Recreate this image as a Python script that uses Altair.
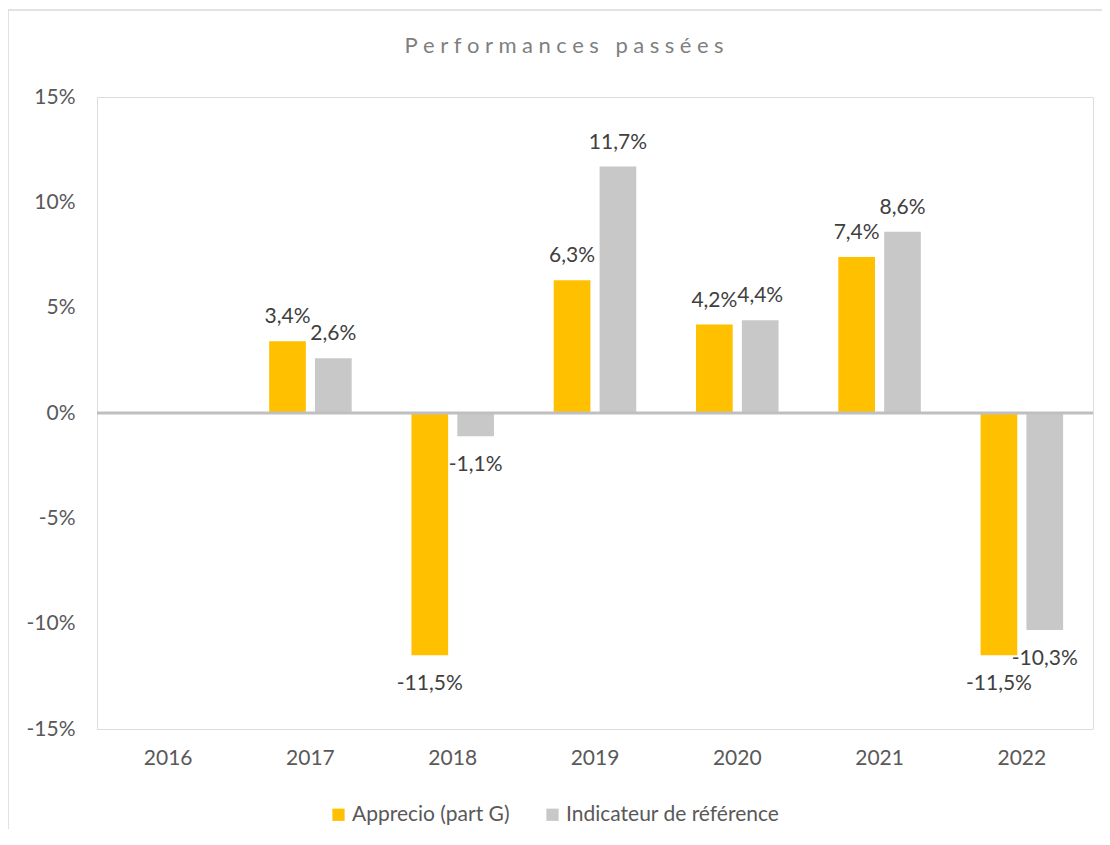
import altair as alt
import pandas as pd

years = ["2016", "2017", "2018", "2019", "2020", "2021", "2022"]
series = ["Apprecio (part G)", "Indicateur de référence"]
apprecio = [None, 3.4, -11.5, 6.3, 4.2, 7.4, -11.5]
indicateur = [None, 2.6, -1.1, 11.7, 4.4, 8.6, -10.3]
colors = ["#FFC000", "#C8C8C8"]
y_ticks = [-15, -10, -5, 0, 5, 10, 15]
title_text = "Performances passées"

rows = []
for yr, a, b in zip(years, apprecio, indicateur):
    for s, v in zip(series, [a, b]):
        if v is not None:
            rows.append({"year": yr, "serie": s, "value": v,
                         "label": f"{v:.1f}%".replace(".", ",")})
df = pd.DataFrame(rows)

FONT = "Lato"
W, H = 996, 632
spaced_title = "\u2005".join(title_text)

x_enc = alt.X("year:N", sort=years, scale=alt.Scale(domain=years, paddingInner=0.42, paddingOuter=0.21),
              axis=alt.Axis(title=None, domain=False, ticks=False, labelAngle=0, labelFont=FONT,
                            labelFontSize=21, labelColor="#595959", labelPadding=18))
xo_enc = alt.XOffset("serie:N", sort=series, scale=alt.Scale(domain=series, paddingInner=0.2))
y_scale = alt.Scale(domain=[-15, 15], nice=False)

base = alt.Chart(df)

bars = base.mark_bar().encode(
    x=x_enc,
    xOffset=xo_enc,
    y=alt.Y("value:Q", scale=y_scale,
            axis=alt.Axis(title=None, values=y_ticks, domain=False, ticks=False, grid=False,
                          labelExpr="datum.value + '%'", labelFont=FONT, labelFontSize=21,
                          labelColor="#595959", labelPadding=22)),
    color=alt.Color("serie:N", sort=series, scale=alt.Scale(domain=series, range=colors),
                    legend=alt.Legend(title=None, orient="none", legendX=231, legendY=707,
                                      direction="horizontal", symbolType="square", symbolSize=150,
                                      symbolStrokeWidth=0, labelFont=FONT, labelFontSize=21,
                                      labelColor="#595959", labelOffset=3, columnPadding=32,
                                      labelLimit=400, padding=0)),
)

pos_text = base.transform_filter("datum.value >= 0").mark_text(
    font=FONT, fontSize=21, color="#404040", baseline="middle", dy=-24
).encode(x=x_enc, xOffset=xo_enc, y=alt.Y("value:Q", scale=y_scale), text="label:N")

neg_text = base.transform_filter("datum.value < 0").mark_text(
    font=FONT, fontSize=21, color="#404040", baseline="middle", dy=29
).encode(x=x_enc, xOffset=xo_enc, y=alt.Y("value:Q", scale=y_scale), text="label:N")

zero = alt.Chart(pd.DataFrame({"z": [0]})).mark_rule(color="#BFBFBF", strokeWidth=3).encode(
    y=alt.Y("z:Q", scale=y_scale))

frame = alt.Chart(pd.DataFrame({"a": [0]})).mark_rect(
    fill=None, stroke="#D9D9D9", strokeWidth=1.5, clip=False
).encode(x=alt.value(-89), x2=alt.value(1030), y=alt.value(-87), y2=alt.value(800))

title = alt.Chart(pd.DataFrame({"t": [spaced_title]})).mark_text(
    font=FONT, fontSize=22, color="#7F7F7F", align="center", baseline="alphabetic"
).encode(x=alt.value(467), y=alt.value(-44), text="t:N")

chart = alt.layer(frame, bars, zero, pos_text, neg_text, title).properties(
    width=W, height=H,
    autosize=alt.AutoSizeParams(type="none"),
    padding={"left": 89, "top": 89, "right": 9, "bottom": 100},
).configure_view(stroke=None).configure(background="white")

chart.save("out.html", embed_options={"renderer": "svg", "actions": False})
